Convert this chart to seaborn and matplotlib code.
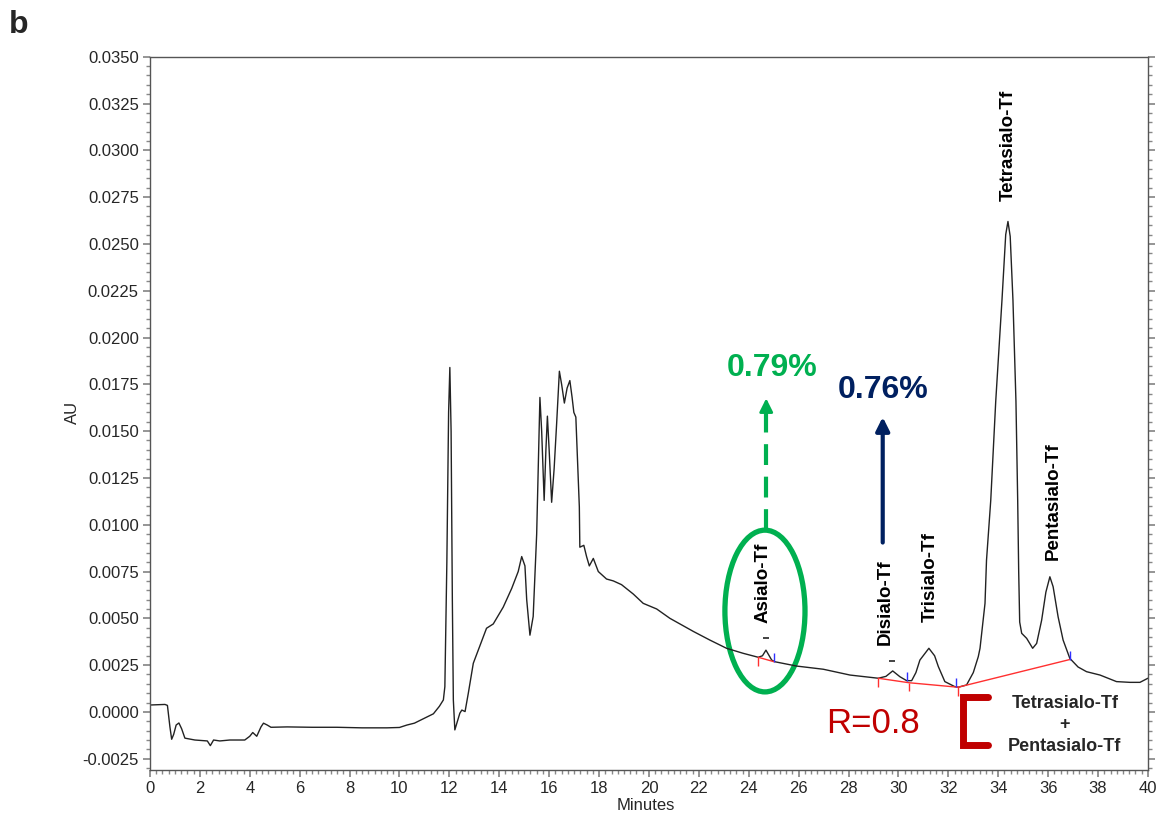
import numpy as np
import pandas as pd
import matplotlib.pyplot as plt
import seaborn as sns
from matplotlib.patches import Ellipse
from matplotlib.ticker import MultipleLocator

# chromatogram trace (minutes, AU)
minutes = [0.0, 0.6, 0.7, 0.8, 0.87, 0.95, 1.05, 1.16, 1.27, 1.4, 1.8, 2.3, 2.42, 2.55, 2.8,
           3.2, 3.8, 4.0, 4.12, 4.28, 4.45, 4.55, 4.7, 4.85, 5.5, 6.5, 7.5, 8.5, 9.5, 10.0,
           10.3, 10.6, 11.0, 11.36, 11.6, 11.76, 11.82, 11.9, 11.97, 12.02, 12.07, 12.12, 12.16,
           12.22, 12.3, 12.42, 12.5, 12.63, 12.76, 12.96, 13.16, 13.49, 13.76, 14.16, 14.5,
           14.76, 14.9, 15.03, 15.1, 15.23, 15.36, 15.5, 15.63, 15.7, 15.8, 15.87, 15.93, 16.0,
           16.1, 16.2, 16.3, 16.41, 16.5, 16.61, 16.72, 16.83, 16.92, 16.99, 17.07, 17.15,
           17.21, 17.23, 17.39, 17.5, 17.61, 17.77, 17.97, 18.3, 18.57, 18.9, 19.37, 19.77,
           20.31, 20.84, 21.78, 22.44, 23.11, 23.78, 24.38, 24.55, 24.69, 24.82, 24.92, 25.05,
           25.92, 26.99, 28.06, 29.19, 29.5, 29.77, 30.06, 30.33, 30.53, 30.7, 30.86, 31.22,
           31.45, 31.6, 31.86, 32.26, 32.4, 32.73, 33.0, 33.2, 33.27, 33.47, 33.53, 33.7, 33.9,
           34.15, 34.3, 34.39, 34.48, 34.59, 34.71, 34.78, 34.82, 34.86, 34.94, 35.14, 35.38,
           35.54, 35.74, 35.91, 36.07, 36.2, 36.4, 36.6, 36.87, 37.2, 37.54, 38.08, 38.74,
           39.28, 39.68, 39.94, 40.0]
au = [0.00037, 0.0004, 0.00035, -0.0008, -0.00146, -0.0012, -0.0007, -0.00059, -0.0009,
      -0.0014, -0.0015, -0.00155, -0.0018, -0.0015, -0.00155, -0.0015, -0.0015, -0.0013,
      -0.0011, -0.0013, -0.0008, -0.0006, -0.0007, -0.00082, -0.0008, -0.00082, -0.00082,
      -0.00085, -0.00085, -0.00083, -0.0007, -0.0006, -0.00034, -0.0001, 0.0003, 0.00064,
      0.00135, 0.008, 0.016, 0.0184, 0.015, 0.006, 0.00064, -0.00096, -0.0006, -0.00007,
      0.0001, 0.00002, 0.001, 0.0026, 0.0033, 0.00447, 0.0047, 0.0056, 0.0066, 0.0075,
      0.0083, 0.0078, 0.006, 0.0041, 0.0051, 0.0095, 0.0168, 0.015, 0.0113, 0.014, 0.0158,
      0.014, 0.0112, 0.013, 0.0154, 0.0182, 0.0175, 0.0165, 0.0173, 0.0177, 0.0168, 0.016,
      0.01575, 0.013, 0.01095, 0.0088, 0.0089, 0.0083, 0.0078, 0.0082, 0.0075, 0.0071,
      0.007, 0.0068, 0.0063, 0.0058, 0.0055, 0.005, 0.0043, 0.00384, 0.0034, 0.00313,
      0.00292, 0.003, 0.0033, 0.003, 0.00277, 0.00268, 0.00245, 0.00228, 0.00197, 0.0018,
      0.0019, 0.00219, 0.00188, 0.00167, 0.00167, 0.0021, 0.00277, 0.0034, 0.003, 0.00242,
      0.00162, 0.00135, 0.00132, 0.00144, 0.0021, 0.00295, 0.0034, 0.0058, 0.0081, 0.0113,
      0.0166, 0.022, 0.0255, 0.0262, 0.0254, 0.022, 0.0166, 0.0113, 0.0075, 0.0048, 0.0042,
      0.00393, 0.0034, 0.00366, 0.0049, 0.0064, 0.00722, 0.00669, 0.00508, 0.00384, 0.00286,
      0.0024, 0.00215, 0.00197, 0.00162, 0.00158, 0.00158, 0.00176, 0.0018]

# integration baselines
asialo_base_t = [24.38, 25.02]
asialo_base_au = [0.00292, 0.00268]
group_base_t = [29.19, 30.42, 32.39, 36.87]
group_base_au = [0.0018, 0.00156, 0.00132, 0.0028]
start_mark_t = [24.38, 29.19, 30.42, 32.39]
start_mark_au = [0.00292, 0.0018, 0.00156, 0.00132]
end_mark_t = [25.02, 30.33, 32.30, 36.87]
end_mark_au = [0.00268, 0.00167, 0.00135, 0.0028]

peak_names = ['Asialo-Tf', 'Disialo-Tf', 'Trisialo-Tf', 'Tetrasialo-Tf', 'Pentasialo-Tf']
peak_label_t = [24.57, 29.46, 31.26, 34.39, 36.19]
peak_label_au = [0.00475, 0.00357, 0.0048, 0.0273, 0.0081]
dash_t = [24.68, 29.73]
dash_au = [0.00393, 0.00272]

y_ticks = [-0.0025, 0.0, 0.0025, 0.005, 0.0075, 0.01, 0.0125, 0.015, 0.0175, 0.02, 0.0225,
           0.025, 0.0275, 0.03, 0.0325, 0.035]
y_tick_labels = ['-0.0025', '0.0000', '0.0025', '0.0050', '0.0075', '0.0100', '0.0125',
                 '0.0150', '0.0175', '0.0200', '0.0225', '0.0250', '0.0275', '0.0300',
                 '0.0325', '0.0350']
x_ticks = list(range(0, 41, 2))

sns.set_theme(style='ticks')
plt.rcParams['font.family'] = ['Liberation Sans', 'DejaVu Sans']

GREEN = '#00b050'
NAVY = '#002060'
DARKRED = '#c00000'

df = pd.DataFrame({'Minutes': minutes, 'AU': au})

fig = plt.figure(figsize=(11.58, 8.14), dpi=100)
ax = fig.add_axes([0.1295, 0.0541, 0.8618, 0.8762])

sns.lineplot(data=df, x='Minutes', y='AU', ax=ax, color='#222222', lw=1.0,
             sort=False, estimator=None)

# baselines and integration marks
ax.plot(asialo_base_t, asialo_base_au, color='#ff3030', lw=1)
ax.plot(group_base_t, group_base_au, color='#ff3030', lw=1)
ax.vlines(start_mark_t, np.array(start_mark_au) - 0.00045, start_mark_au, color='#ff3030', lw=1)
ax.vlines(end_mark_t, end_mark_au, np.array(end_mark_au) + 0.00045, color='#3030ff', lw=1)
ax.plot(dash_t, dash_au, ls='none', marker='_', ms=5, mew=1.2, color='#222222')

for name, t, y in zip(peak_names, peak_label_t, peak_label_au):
    ax.text(t, y, name, rotation=90, ha='center', va='bottom', fontsize=13.5,
            fontweight='bold', color='black')

# asialo highlight
ax.add_patch(Ellipse((24.65, 0.00539), 3.21, 0.00864, fill=False, ec=GREEN, lw=3.8))
ax.plot([24.7, 24.7], [0.0097, 0.0163], color=GREEN, lw=3, dashes=(5, 2.8))
ax.annotate('', xy=(24.7, 0.0169), xytext=(24.7, 0.0160),
            arrowprops=dict(arrowstyle='-|>,head_length=0.8,head_width=0.4', color=GREEN,
                            lw=2, mutation_scale=10))
ax.text(24.92, 0.01836, '0.79%', color=GREEN, fontsize=23, fontweight='bold',
        ha='center', va='center')

# disialo arrow
ax.annotate('', xy=(29.37, 0.0159), xytext=(29.37, 0.0089),
            arrowprops=dict(arrowstyle='-|>,head_length=0.8,head_width=0.4', color=NAVY,
                            lw=3, mutation_scale=10))
ax.text(29.39, 0.01718, '0.76%', color=NAVY, fontsize=23, fontweight='bold',
        ha='center', va='center')

ax.text(28.98, -0.00064, 'R=0.8', color=DARKRED, fontsize=25, ha='center', va='center')
ax.plot([33.59, 32.59, 32.59, 33.59], [0.0008, 0.0008, -0.00176, -0.00176],
        color=DARKRED, lw=5, solid_joinstyle='miter')
ax.text(36.67, -0.00069, 'Tetrasialo-Tf\n+\nPentasialo-Tf', fontsize=13, fontweight='bold',
        ha='center', va='center', linespacing=1.35)

ax.set_xlim(0, 40)
ax.set_ylim(-0.0031, 0.035)
ax.set_xticks(x_ticks)
ax.set_xticklabels([str(v) for v in x_ticks])
ax.set_yticks(y_ticks)
ax.set_yticklabels(y_tick_labels)
ax.xaxis.set_minor_locator(MultipleLocator(0.25))
ax.yaxis.set_minor_locator(MultipleLocator(0.0005))
ax.tick_params(which='both', direction='out', color='#888888', labelsize=12,
               right=True, labelright=False, top=False)
ax.tick_params(which='major', length=5, pad=3)
ax.tick_params(which='minor', length=3)
for sp in ax.spines.values():
    sp.set_color('#555555')
    sp.set_linewidth(1)
ax.set_xlabel('')
ax.set_ylabel('')

fig.text(646 / 1158, 1 - 806 / 814, 'Minutes', fontsize=12, ha='center', va='center')
fig.text(72 / 1158, 1 - 412 / 814, 'AU', fontsize=12, rotation=90, ha='center', va='center')
fig.text(9 / 1158, 1 - 25 / 814, 'b', fontsize=23, fontweight='bold', ha='left', va='center')

fig.savefig('out.png', dpi=100, facecolor='white')
